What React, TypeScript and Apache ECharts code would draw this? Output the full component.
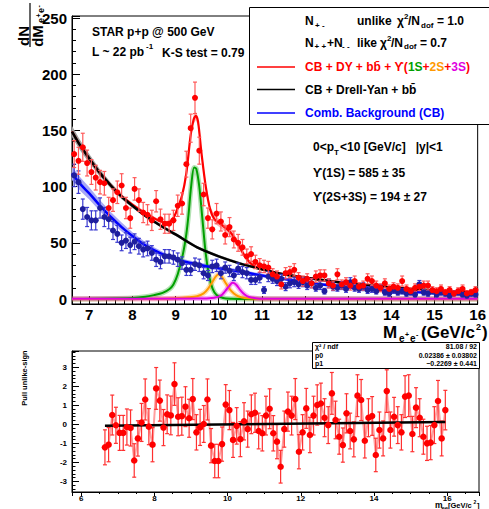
import React, { useEffect, useRef } from 'react';
import * as echarts from 'echarts';

const FONT = '"Liberation Sans", Arial, Helvetica, sans-serif';

// bin centres (GeV/c^2)
const binX = [
  6.65, 6.75, 6.85, 6.95, 7.05, 7.15, 7.25, 7.35, 7.45, 7.55,
  7.65, 7.75, 7.85, 7.95, 8.05, 8.15, 8.25, 8.35, 8.45, 8.55,
  8.65, 8.75, 8.85, 8.95, 9.05, 9.15, 9.25, 9.35, 9.45, 9.55,
  9.65, 9.75, 9.85, 9.95, 10.05, 10.15, 10.25, 10.35, 10.45, 10.55,
  10.65, 10.75, 10.85, 10.95, 11.05, 11.15, 11.25, 11.35, 11.45, 11.55,
  11.65, 11.75, 11.85, 11.95, 12.05, 12.15, 12.25, 12.35, 12.45, 12.55,
  12.65, 12.75, 12.85, 12.95, 13.05, 13.15, 13.25, 13.35, 13.45, 13.55,
  13.65, 13.75, 13.85, 13.95, 14.05, 14.15, 14.25, 14.35, 14.45, 14.55,
  14.65, 14.75, 14.85, 14.95, 15.05, 15.15, 15.25, 15.35, 15.45, 15.55,
  15.65, 15.75, 15.85, 15.95,
];

// unlike-sign counts (red)
const unlikeY = [
  129, 123, 135, 121, 113, 108, 104, 103, 81, 88,
  95, 101, 81, 72, 98, 88, 77, 75, 70, 87,
  71, 67, 67, 70, 83, 85, 120, 152, 179, 132,
  93, 72, 62, 76, 69, 57, 64, 53, 50, 46,
  38, 40, 33, 30, 29, 28, 22, 20, 13, 23,
  24, 26, 19, 16, 18, 14, 20, 21, 21, 14,
  12, 22, 13, 15, 12, 16, 11, 12, 18, 16,
  12, 10, 14, 9, 11, 10, 16, 9, 7, 10,
  11, 12, 12, 8, 7, 9, 6, 8, 5, 7,
  9, 5, 6, 8,
];
const unlikeErr = [
  12, 12, 12.5, 11.5, 11, 11, 10.5, 10.5, 9.5, 10,
  10, 10.5, 9.5, 9, 10, 10, 9, 9, 9, 9.5,
  9, 8.5, 8.5, 9, 9.5, 9.5, 11.5, 12.5, 14, 12,
  10, 9, 8.5, 9, 8.5, 8, 8.5, 7.5, 7.5, 7,
  6.5, 6.5, 6, 6, 5.5, 5.5, 5, 5, 4, 5,
  5, 5.5, 4.5, 4.5, 4.5, 4, 5, 5, 5, 4,
  4, 5, 4, 4, 4, 4.5, 3.5, 4, 4.5, 4.5,
  4, 3.5, 4, 3.5, 3.5, 3.5, 4.5, 3.5, 3, 3.5,
  3.5, 4, 4, 3, 3, 3.5, 2.5, 3, 2.5, 3,
  3.5, 2.5, 2.5, 3,
];

// like-sign counts (blue)
const likeY = [
  110, 104, 80, 73, 70, 70, 81, 73, 71, 61,
  58, 50, 52, 48, 51, 47, 44, 45, 41, 35,
  33, 38, 38, 37, 35, 32, 26, 26, 31, 30,
  23, 21, 29, 30, 23, 28, 25, 21, 27, 24,
  23, 17, 17, 19, 8, 20, 18, 16, 18, 11,
  14, 15, 13, 15, 12, 14, 10, 12, 7, 14,
  11, 10, 12, 9, 15, 10, 9, 11, 8, 9,
  7, 10, 6, 5, 8, 6, 7, 5, 6, 4,
  13, 6, 5, 7, 4, 6, 5, 3, 5, 6,
  4, 3, 5, 4,
];
const likeErr = [
  10, 10, 9, 8.5, 8.5, 8.5, 9, 8.5, 8.5, 8,
  7.5, 7, 7, 7, 7, 7, 6.5, 6.5, 6.5, 6,
  6, 6, 6, 6, 6, 5.5, 5, 5, 5.5, 5.5,
  5, 4.5, 5.5, 5.5, 5, 5, 5, 4.5, 5, 5,
  5, 4, 4, 4.5, 3, 4.5, 4, 4, 4, 3.5,
  4, 4, 3.5, 4, 3.5, 4, 3, 3.5, 2.5, 4,
  3.5, 3, 3.5, 3, 4, 3, 3, 3.5, 3, 3,
  2.5, 3, 2.5, 2.5, 3, 2.5, 2.5, 2.5, 2.5, 2,
  3.5, 2.5, 2.5, 2.5, 2, 2.5, 2.5, 2, 2.5, 2.5,
  2, 2, 2.5, 2,
];

// fit curves
const fullFitX = [6.6, 6.8, 7.0, 7.25, 7.5, 7.75, 8.0, 8.25, 8.5, 8.6, 8.75, 8.85, 8.95, 9.05, 9.15, 9.25, 9.35, 9.42, 9.47, 9.52, 9.6, 9.7, 9.8, 9.9, 10.0, 10.1, 10.2, 10.3, 10.4, 10.5, 10.6, 10.7, 10.8, 10.9, 11.0, 11.5, 12.0, 12.5, 13.0, 13.5, 14.0, 14.5, 15.0, 15.5, 16.0];
const fullFitY = [149, 136, 125, 112, 101, 91.5, 84, 77.5, 72, 70, 68, 68.5, 72, 81, 92, 112, 146, 160, 163, 158, 130, 100, 80, 71, 68, 65, 62, 58, 52, 45, 38.5, 33.5, 30, 28, 26.5, 22, 19, 16.5, 14, 12, 10.3, 8.8, 7.6, 6.5, 5.5];
const fullFitBand = [1.5, 1.5, 1.5, 1.5, 1.5, 1.5, 1.5, 1.5, 1.5, 1.5, 1.5, 1.5, 1.8, 2, 2.5, 3, 3.5, 4, 4, 4, 3.5, 3, 3, 3.5, 3.5, 3.5, 3.5, 3.5, 3.5, 3, 2.5, 2, 1.5, 1.2, 1, 1, 1, 1, 1, 1, 1, 1, 1, 1, 1];

const dyX = [6.6, 6.8, 7.0, 7.25, 7.5, 7.75, 8.0, 8.25, 8.5, 8.75, 9.0, 9.5, 10, 10.5, 11, 11.5, 12, 12.5, 13, 13.5, 14, 14.5, 15, 15.5, 16];
const dyY = [149, 136, 125, 112, 101, 91, 83, 75.5, 69, 63, 57.5, 46, 38, 31.5, 26.5, 22, 19, 16.5, 14, 12, 10.3, 8.8, 7.6, 6.5, 5.5];
const dyBand = [5, 4.5, 4, 3.2, 2.6, 2.2, 1.8, 1.6, 1.5, 1.4, 1.4, 1.3, 1.3, 1.2, 1.2, 1.1, 1.1, 1, 1, 1, 1, 1, 1, 1, 1];

const cbX = [6.6, 6.8, 7.0, 7.25, 7.5, 7.75, 8.0, 8.25, 8.5, 8.75, 9.0, 9.25, 9.5, 9.75, 10, 10.5, 11, 11.5, 12, 12.5, 13, 13.5, 14, 14.5, 15, 15.5, 16];
const cbY = [112, 102, 94, 83, 73, 64, 56, 49, 43.5, 39, 35.5, 33, 31, 29, 27.5, 24.5, 21, 18, 15, 12.5, 10.5, 9, 7.5, 6.3, 5.2, 4.3, 3.5];
const cbBand = [6, 6, 5.5, 5, 4.5, 4, 3.5, 3, 2.5, 2.2, 2, 2, 2, 2, 2, 1.8, 1.6, 1.5, 1.4, 1.3, 1.2, 1.1, 1, 1, 1, 1, 1];

const ups1X = [6.6, 8.0, 8.3, 8.5, 8.7, 8.86, 8.95, 9.05, 9.17, 9.25, 9.3, 9.36, 9.43, 9.48, 9.55, 9.62, 9.7, 9.78, 9.86, 9.95, 10.1, 10.3, 10.6, 16];
const ups1Y = [0, 1, 2, 3.5, 5.5, 9, 13, 22, 40, 58, 75, 100, 117, 116, 100, 72, 40, 20, 9, 3.5, 1, 0.3, 0, 0];

const ups2X = [6.6, 8.5, 9.0, 9.3, 9.5, 9.65, 9.75, 9.85, 9.93, 10.0, 10.07, 10.15, 10.25, 10.35, 10.45, 10.6, 10.8, 11.0, 16];
const ups2Y = [0, 0.3, 0.8, 1.5, 2.5, 5, 9, 15, 20, 22, 20, 15, 9, 5, 2.5, 1, 0.4, 0, 0];

const ups3X = [6.6, 9.5, 9.9, 10.05, 10.15, 10.25, 10.32, 10.4, 10.5, 10.6, 10.7, 10.85, 11.0, 16];
const ups3Y = [0.3, 0.4, 1.2, 3, 7, 12, 14.5, 13, 8, 4, 1.8, 0.8, 0.3, 0.3];

// pull (lower panel)
const pullY = [
  -1.21, -1.07, 0.49, -0.05, -0.45, -0.45, -0.14, -0.19, -1.9, -0.74,
  0.1, 1.31, -0.12, -1.07, 1.89, 1.25, -0.17, 0.53, 0.47, 2.12,
  0.4, 0.43, 0.93, 0.32, 1.33, -0.42, -0.16, 0.02, 1.31, -1.12,
  -1.93, -1.93, -1.04, 1.04, 0.75, -0.82, -0.08, -0.78, 0.16, -0.25,
  0.53, 0.61, -0.35, -0.47, 0.46, 0.82, -0.47, -0.91, -2.23, -0.25,
  0.67, 0.46, 1.33, -1.44, -0.42, 0.84, -0.56, 0.46, 1.02, 1.1,
  0.35, -0.04, 1.63, 0.23, -0.65, -1.09, 0.58, -0.35, -0.79, 1.51,
  1.28, -0.86, 0.35, 0.44, -1.61, -0.3, -0.74, 1.75, -0.3, 0.4,
  -0.04, -0.42, 1.46, 1.51, -0.51, 0.88, 0.35, -0.65, -1.0, -0.96,
  -0.04, 1.23, -0.74, 0.75,
];
const pullErr = [
  0.92, 0.9, 1.05, 0.95, 0.92, 0.92, 0.95, 0.95, 0.88, 0.93,
  1.0, 1.08, 0.95, 0.9, 1.1, 1.08, 0.95, 1.02, 1.02, 1.12,
  1.0, 1.0, 1.05, 1.0, 1.08, 0.93, 0.95, 0.97, 1.08, 0.9,
  0.88, 0.88, 0.9, 1.05, 1.03, 0.92, 0.96, 0.92, 0.98, 0.95,
  1.02, 1.03, 0.94, 0.93, 1.02, 1.05, 0.93, 0.9, 0.86, 0.95,
  1.03, 1.02, 1.08, 0.9, 0.93, 1.05, 0.93, 1.02, 1.06, 1.07,
  1.0, 0.97, 1.1, 0.99, 0.92, 0.9, 1.03, 0.94, 0.92, 1.1,
  1.08, 0.91, 1.0, 1.02, 0.88, 0.95, 0.92, 1.12, 0.95, 1.02,
  0.97, 0.93, 1.1, 1.1, 0.93, 1.05, 1.0, 0.92, 0.9, 0.9,
  0.97, 1.08, 0.92, 1.04,
];
const pullFitX = [6.65, 15.95];
const pullFitY = [-0.07, 0.13];

const statLabels = ['χ² / ndf', 'p0', 'p1'];
const statValues = ['81.08 / 92', '0.02386 ± 0.03802', '−0.2269 ± 0.441'];

const RED = '#ff0000';
const BLUE = '#0000ff';
const GREEN = '#00a000';
const ORANGE = '#ff9900';
const MAGENTA = '#e000e0';

function pairs(xs: number[], ys: number[]) {
  return xs.map((x, i) => [x, ys[i]]);
}

function errorBars(xs: number[], ys: number[], es: number[], color: string, xi: number, cap: number, z: number) {
  return {
    type: 'custom',
    xAxisIndex: xi,
    yAxisIndex: xi,
    silent: true,
    z,
    data: xs.map((x, i) => [x, ys[i], es[i]]),
    encode: { x: 0, y: 1 },
    renderItem: (params: any, api: any) => {
      const x = api.value(0);
      const y = api.value(1);
      const e = api.value(2);
      const t = api.coord([x, y + e]);
      const b = api.coord([x, y - e]);
      const st = { stroke: color, lineWidth: 1.2 };
      return {
        type: 'group',
        children: [
          { type: 'line', shape: { x1: t[0], y1: t[1], x2: b[0], y2: b[1] }, style: st },
          { type: 'line', shape: { x1: t[0] - cap, y1: t[1], x2: t[0] + cap, y2: t[1] }, style: st },
          { type: 'line', shape: { x1: b[0] - cap, y1: b[1], x2: b[0] + cap, y2: b[1] }, style: st },
        ],
      };
    },
  };
}

// uncertainty band drawn as one polygon through the axis scales
function band(xs: number[], ys: number[], hw: number[], color: string, z: number) {
  return {
    type: 'custom',
    xAxisIndex: 0,
    yAxisIndex: 0,
    silent: true,
    z,
    data: [[xs[0], ys[0]]],
    encode: { x: 0, y: 1 },
    renderItem: (params: any, api: any) => {
      const up = xs.map((x, i) => api.coord([x, ys[i] + hw[i]]));
      const lo = xs.map((x, i) => api.coord([x, ys[i] - hw[i]])).reverse();
      return { type: 'polygon', shape: { points: up.concat(lo) }, style: { fill: color } };
    },
  };
}

function curve(xs: number[], ys: number[], color: string, width: number, z: number) {
  return {
    type: 'line', xAxisIndex: 0, yAxisIndex: 0, silent: true, z, smooth: 0.3,
    symbol: 'none', lineStyle: { color, width },
    data: pairs(xs, ys),
  };
}

function txt(text: string, x: number, y: number, size: number, extra: any = {}) {
  return {
    type: 'text', x, y, z: 100, silent: true, rotation: extra.rotation || 0,
    style: {
      text, fontSize: size, fontWeight: extra.weight || 'bold', fontFamily: FONT,
      fill: extra.fill || '#000', align: extra.align || 'left', verticalAlign: 'middle',
    },
  };
}

function hline(x1: number, x2: number, y: number, color: string, w: number) {
  return { type: 'line', z: 100, silent: true, shape: { x1, y1: y, x2, y2: y }, style: { stroke: color, lineWidth: w } };
}

const isMult = (v: number, m: number) => Math.abs(v / m - Math.round(v / m)) < 1e-6;

function buildOption(): any {
  const axisCommon = {
    axisLine: { show: true, onZero: false, lineStyle: { color: '#000', width: 1 } },
    splitLine: { show: false },
  };
  const richLeg = {
    r: { fill: RED, fontSize: 12, fontWeight: 'bold', fontFamily: FONT },
    g: { fill: GREEN, fontSize: 12, fontWeight: 'bold', fontFamily: FONT },
    o: { fill: ORANGE, fontSize: 12, fontWeight: 'bold', fontFamily: FONT },
    m: { fill: MAGENTA, fontSize: 12, fontWeight: 'bold', fontFamily: FONT },
  };

  const graphics: any[] = [
    // legend box
    { type: 'rect', z: 99, silent: true, shape: { x: 249.5, y: 7.5, width: 250, height: 117 }, style: { fill: '#fff', stroke: '#000', lineWidth: 1 } },
    txt('N', 305, 21, 12), txt('+ -', 315, 25, 8),
    txt('unlike', 357, 21, 12), txt('χ', 397, 21, 12), txt('2', 404, 16.5, 8), txt('/N', 408, 21, 12), txt('dof', 421, 25, 8), txt('= 1.0', 437, 21, 12),
    txt('N', 305, 42.5, 12), txt('+ +', 314.5, 46.5, 8), txt('+N', 327, 42.5, 12), txt('- -', 342, 46.5, 8),
    txt('like', 357, 42.5, 12), txt('χ', 380, 42.5, 12), txt('2', 387, 38, 8), txt('/N', 391, 42.5, 12), txt('dof', 404, 46.5, 8), txt('= 0.7', 420, 42.5, 12),
    hline(257, 295, 67, RED, 1.5),
    {
      type: 'text', x: 305, y: 67, z: 100, silent: true,
      style: {
        text: '{r|CB + DY + bb̄ + ϒ(}{g|1S}{r|+}{o|2S}{r|+}{m|3S}{r|)}',
        rich: richLeg, verticalAlign: 'middle', align: 'left', fontSize: 12, fontWeight: 'bold', fontFamily: FONT,
      },
    },
    hline(257, 295, 89.5, '#000', 1.5),
    txt('CB + Drell-Yan + bb̄', 305, 89.5, 12),
    hline(257, 295, 113, BLUE, 1.5),
    txt('Comb. Background (CB)', 305, 113, 12, { fill: BLUE }),

    // top-left texts
    txt('STAR p+p @ 500 GeV', 92, 32, 12),
    txt('L ~ 22 pb', 92, 52, 12), txt('-1', 146, 46.5, 8),
    txt('K-S test = 0.79', 162, 53, 12),

    // right texts
    txt('0<p', 313, 147, 12), txt('T', 334, 152, 8), txt('<10 [GeV/c]   |y|<1', 340, 147, 12),
    txt('ϒ(1S) = 585 ± 35', 313, 173, 12),
    txt('ϒ(2S+3S) = 194 ± 27', 313, 197, 12),

    // x-axis title (top)
    txt('M', 383, 332, 17), txt('e', 399, 338, 10), txt('+', 405, 334, 7), txt('e', 410, 338, 10), txt('-', 416, 334, 7),
    txt('(GeV/c', 421, 332, 17), txt('2', 476, 326.5, 9), txt(')', 482, 332, 17),

    // y-axis title (top), rotated fraction
    {
      type: 'group', x: 30, y: 25, rotation: Math.PI / 2, z: 100, silent: true,
      children: [
        { type: 'text', x: -11, y: -7, style: { text: 'dN', fontSize: 15, fontWeight: 'bold', fontFamily: FONT, fill: '#000', align: 'center', verticalAlign: 'middle' } },
        { type: 'line', shape: { x1: -22, y1: 0, x2: 22, y2: 0 }, style: { stroke: '#000', lineWidth: 1.2 } },
        { type: 'text', x: -11, y: 7, style: { text: 'dM', fontSize: 15, fontWeight: 'bold', fontFamily: FONT, fill: '#000', align: 'center', verticalAlign: 'middle' } },
        { type: 'text', x: 2, y: 11, style: { text: 'e', fontSize: 9, fontWeight: 'bold', fontFamily: FONT, fill: '#000', align: 'left', verticalAlign: 'middle' } },
        { type: 'text', x: 7.5, y: 8, style: { text: '+', fontSize: 7, fontWeight: 'bold', fontFamily: FONT, fill: '#000', align: 'left', verticalAlign: 'middle' } },
        { type: 'text', x: 12, y: 11, style: { text: 'e', fontSize: 9, fontWeight: 'bold', fontFamily: FONT, fill: '#000', align: 'left', verticalAlign: 'middle' } },
        { type: 'text', x: 17.5, y: 8, style: { text: '-', fontSize: 7, fontWeight: 'bold', fontFamily: FONT, fill: '#000', align: 'left', verticalAlign: 'middle' } },
      ],
    },

    // lower panel titles
    txt('Pull unlike-sign', 24, 378, 7.5, { align: 'center', rotation: Math.PI / 2 }),
    txt('m', 435, 505, 8.5), txt('ee', 441.5, 507.5, 6), txt('[GeV/c', 448, 505, 7.5), txt('2', 473.5, 502, 5), txt(']', 477, 505, 7.5),

    // stats box
    { type: 'rect', z: 99, silent: true, shape: { x: 312.5, y: 342.5, width: 167, height: 26 }, style: { fill: '#fff', stroke: '#000', lineWidth: 1 } },
  ];
  statLabels.forEach((s, i) => {
    graphics.push(txt(s, 315, 346.5 + i * 8.6, 7));
    graphics.push(txt(statValues[i], 477, 346.5 + i * 8.6, 7, { align: 'right' }));
  });

  return {
    animation: false,
    backgroundColor: '#fff',
    grid: [
      { left: 72, top: 16, width: 408, height: 288, show: true, borderColor: '#000', borderWidth: 1, backgroundColor: 'transparent' },
      { left: 72, top: 351, width: 407, height: 141, show: true, borderColor: '#000', borderWidth: 1, backgroundColor: 'transparent' },
    ],
    xAxis: [
      {
        ...axisCommon, type: 'value', gridIndex: 0, min: 6.6, max: 16, splitNumber: 9,
        axisTick: { show: true, inside: true, length: 8, lineStyle: { color: '#000' } },
        minorTick: { show: true, splitNumber: 5, length: 4, lineStyle: { color: '#000' } },
        axisLabel: {
          margin: 3, color: '#000', fontSize: 15, fontWeight: 'bold', fontFamily: FONT,
          formatter: (v: number) => (isMult(v, 1) ? String(Math.round(v)) : ''),
        },
      },
      {
        ...axisCommon, type: 'value', gridIndex: 1, min: 5.75, max: 16.87, splitNumber: 5,
        axisTick: { show: true, inside: false, length: 4, lineStyle: { color: '#000' } },
        minorTick: { show: true, splitNumber: 4, length: 2, lineStyle: { color: '#000' } },
        axisLabel: {
          margin: 2, color: '#000', fontSize: 8, fontWeight: 'bold', fontFamily: FONT,
          formatter: (v: number) => (isMult(v, 2) ? String(Math.round(v)) : ''),
        },
      },
    ],
    yAxis: [
      {
        ...axisCommon, type: 'value', gridIndex: 0, min: -4.4, max: 251.8, splitNumber: 5,
        axisTick: { show: true, inside: true, length: 8, lineStyle: { color: '#000' } },
        minorTick: { show: true, splitNumber: 5, length: 4, lineStyle: { color: '#000' } },
        axisLabel: {
          margin: 5, color: '#000', fontSize: 15, fontWeight: 'bold', fontFamily: FONT,
          formatter: (v: number) => (isMult(v, 50) ? String(Math.round(v)) : ''),
        },
      },
      {
        ...axisCommon, type: 'value', gridIndex: 1, min: -3.56, max: 3.86, splitNumber: 7,
        axisTick: { show: true, inside: true, length: 7, lineStyle: { color: '#000' } },
        minorTick: { show: true, splitNumber: 5, length: 3.5, lineStyle: { color: '#000' } },
        axisLabel: {
          margin: 5, color: '#000', fontSize: 8, fontWeight: 'bold', fontFamily: FONT,
          formatter: (v: number) => (isMult(v, 1) ? String(Math.round(v)) : ''),
        },
      },
    ],
    series: [
      band(fullFitX, fullFitY, fullFitBand, '#ffb4b4', 1),
      band(dyX, dyY, dyBand, '#a0a0a0', 1),
      band(cbX, cbY, cbBand, '#a8a8f4', 1),
      curve(ups1X, ups1Y, 'rgba(0,160,0,0.3)', 5, 2),
      curve(ups2X, ups2Y, 'rgba(255,153,0,0.3)', 5, 2),
      curve(ups3X, ups3Y, 'rgba(224,0,224,0.3)', 5, 2),
      curve(ups1X, ups1Y, GREEN, 2, 3),
      curve(ups2X, ups2Y, ORANGE, 2, 3),
      curve(fullFitX, fullFitY, RED, 2.2, 3),
      curve(dyX, dyY, '#000', 2.5, 3),
      curve(cbX, cbY, BLUE, 2.5, 3),
      curve(ups3X, ups3Y, MAGENTA, 2, 3),
      errorBars(binX, likeY, likeErr, '#3a3ad0', 0, 2, 4),
      errorBars(binX, unlikeY, unlikeErr, '#ff5a5a', 0, 2, 4),
      {
        type: 'scatter', xAxisIndex: 0, yAxisIndex: 0, silent: true, z: 5, symbolSize: 6,
        itemStyle: { color: '#1e1e9e', opacity: 1 }, data: pairs(binX, likeY),
      },
      {
        type: 'scatter', xAxisIndex: 0, yAxisIndex: 0, silent: true, z: 5, symbolSize: 6,
        itemStyle: { color: RED, opacity: 1 }, data: pairs(binX, unlikeY),
      },
      // lower panel
      {
        type: 'line', xAxisIndex: 1, yAxisIndex: 1, silent: true, z: 2, symbol: 'none',
        lineStyle: { color: '#ffa0a0', width: 2 }, data: pairs(binX, pullY),
      },
      errorBars(binX, pullY, pullErr, '#ff3030', 1, 2, 3),
      {
        type: 'line', xAxisIndex: 1, yAxisIndex: 1, silent: true, z: 4, symbol: 'none',
        lineStyle: { color: '#000', width: 2.5 }, data: pairs(pullFitX, pullFitY),
      },
      {
        type: 'scatter', xAxisIndex: 1, yAxisIndex: 1, silent: true, z: 5, symbolSize: 6.5,
        itemStyle: { color: RED, opacity: 1 }, data: pairs(binX, pullY),
      },
    ],
    graphic: graphics,
  };
}

export default function App() {
  const ref = useRef<HTMLDivElement>(null);
  useEffect(() => {
    if (!ref.current) return;
    const chart = echarts.init(ref.current, null, { renderer: 'svg' });
    chart.setOption(buildOption());
    return () => chart.dispose();
  }, []);
  return (
    <div
      ref={ref}
      style={{ position: 'absolute', left: 0, top: 0, width: 489, height: 509, background: '#fff' }}
    />
  );
}
